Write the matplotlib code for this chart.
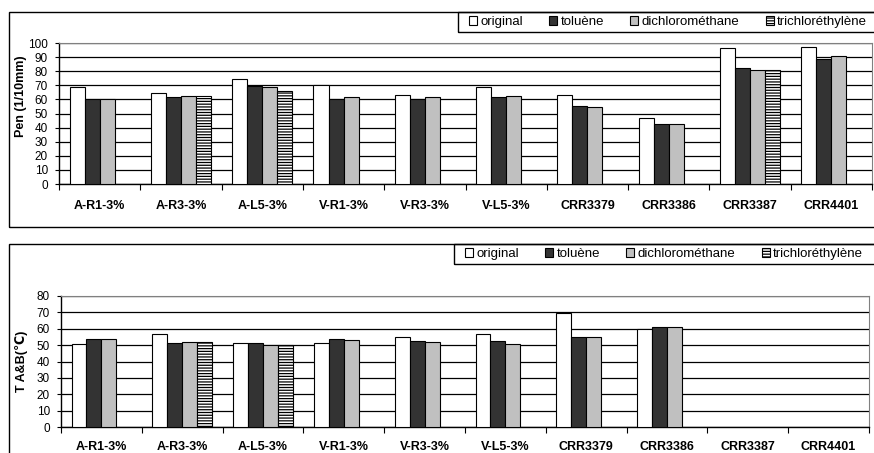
import matplotlib.pyplot as plt
import matplotlib.patches as mpatches
import numpy as np

plt.rcParams['font.family'] = ['Liberation Sans', 'DejaVu Sans']
plt.rcParams['hatch.linewidth'] = 0.9

categories = ['A-R1-3%', 'A-R3-3%', 'A-L5-3%', 'V-R1-3%', 'V-R3-3%',
              'V-L5-3%', 'CRR3379', 'CRR3386', 'CRR3387', 'CRR4401']
series = ['original', 'toluène', 'dichlorométhane', 'trichloréthylène']

# penetration (1/10 mm)
pen_original = [69, 64.5, 74.5, 70.5, 63, 69, 63, 46.5, 96.5, 97.5]
pen_toluene = [60, 61.5, 69.5, 60.5, 60.5, 61.5, 55.5, 42.5, 82.5, 89]
pen_dichloro = [60, 62.5, 68.5, 61.5, 61.5, 62.5, 54.5, 42.5, 81, 90.5]
pen_trichloro = [np.nan, 62.5, 66, np.nan, np.nan, np.nan, np.nan, np.nan, 81, np.nan]

# ring & ball temperature (C)
tab_original = [50.5, 57, 51, 51.5, 55, 57, 69.5, 59.7, np.nan, np.nan]
tab_toluene = [53.6, 51.5, 51, 54, 52.5, 52.3, 54.8, 61.3, np.nan, np.nan]
tab_dichloro = [54, 52, 50.3, 53.4, 52, 50.5, 54.8, 61.3, np.nan, np.nan]
tab_trichloro = [np.nan, 52, 50.3, np.nan, np.nan, np.nan, np.nan, np.nan, np.nan, np.nan]

colors = ['white', '#333333', '#c0c0c0', 'white']
hatches = [None, None, None, '------']

W, H = 874, 453
fig = plt.figure(figsize=(W / 100, H / 100), dpi=100)


def box(x0, y0, x1, y1):
    # rectangle given in pixels from the top-left corner
    fig.patches.append(mpatches.Rectangle((x0 / W, 1 - y1 / H), (x1 - x0) / W, (y1 - y0) / H,
                       transform=fig.transFigure, fill=False, edgecolor='black', lw=1.0))


# outer chart frames and legend boxes
box(9, 12, 900, 227)
box(9, 244, 900, 500)
box(458, 12, 900, 32)
box(454, 244, 900, 264)


def draw(ax, data, ymax, ylabel, label_x, label_y, xpad, legend_x, legend_y):
    x = np.arange(len(categories))
    w = 0.185
    handles = []
    for i, vals in enumerate(data):
        b = ax.bar(x + (i - 1.5) * w, vals, w, color=colors[i], edgecolor='black',
                   lw=0.8, hatch=hatches[i], label=series[i], zorder=3)
        handles.append(b)
    ax.set_xlim(-0.5, len(categories) - 0.5)
    ax.set_ylim(0, ymax)
    ax.set_yticks(np.arange(0, ymax + 1, 10))
    ax.yaxis.grid(True, color='black', lw=0.9, zorder=0)
    ax.set_axisbelow(True)
    ax.set_xticks(np.arange(-0.5, len(categories)), [''] * (len(categories) + 1))
    ax.set_xticks(x, categories, minor=True, fontweight='bold', fontsize=9)
    ax.tick_params(axis='x', which='major', direction='out', length=4, width=0.8)
    ax.tick_params(axis='x', which='minor', length=0, pad=xpad)
    ax.tick_params(axis='y', direction='out', length=3, width=0.8, labelsize=8.5, pad=5)
    ax.spines['top'].set_color('#808080')
    ax.spines['right'].set_color('#808080')
    ax.spines['left'].set_linewidth(1)
    ax.spines['bottom'].set_linewidth(1)
    ax.set_ylabel(ylabel, fontweight='bold', fontsize=9)
    ax.yaxis.set_label_coords(label_x, label_y)
    fig.legend(handles=handles, loc='center left', bbox_to_anchor=(legend_x, legend_y),
               ncol=4, fontsize=9.5, frameon=False,
               handlelength=0.6, handleheight=0.6, handletextpad=0.25,
               columnspacing=2.0, borderpad=0, borderaxespad=0)


ax1 = fig.add_axes([59 / W, 1 - 184 / H, 813 / W, (184 - 43) / H])
draw(ax1, [pen_original, pen_toluene, pen_dichloro, pen_trichloro], 100,
     'Pen (1/10mm)', -0.039, 0.62, 11.5, 469 / W, 1 - 22 / H)

ax2 = fig.add_axes([61 / W, 1 - 427 / H, 808 / W, (427 - 296) / H])
draw(ax2, [tab_original, tab_toluene, tab_dichloro, tab_trichloro], 80,
     'T A&B(℃)', -0.041, 0.5, 10, 465 / W, 1 - 254 / H)

fig.savefig('out.png', dpi=100)
